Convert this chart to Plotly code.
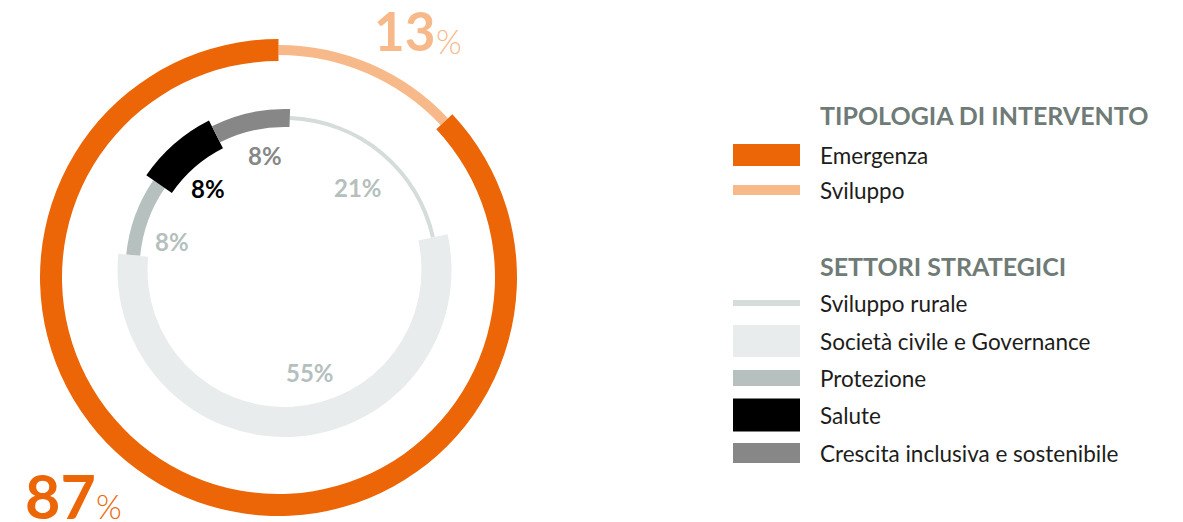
import plotly.graph_objects as go

# ---------------- data ----------------
tip_labels = ["Sviluppo", "Emergenza"]          # outer ring, clockwise from top
tip_values = [13, 87]
sett_labels = ["Sviluppo rurale", "Società civile e Governance", "Protezione",
               "Salute", "Crescita inclusiva e sostenibile"]   # inner ring, clockwise
sett_values = [21, 55, 8, 8, 8]
legend_tip_order = ["Emergenza", "Sviluppo"]

# ---------------- styles ----------------
W, H = 1183, 522
OFF = 8   # page body margin compensation
FONT = "Lato"
tip_colors = {"Emergenza": "#EC6608", "Sviluppo": "#F8B98A"}
tip_thick = {"Emergenza": 22, "Sviluppo": 10}
sett_colors = {"Sviluppo rurale": "#D5DDDB", "Società civile e Governance": "#E8ECEC",
               "Protezione": "#B5C0BF", "Salute": "#000000",
               "Crescita inclusiva e sostenibile": "#878787"}
sett_thick = {"Sviluppo rurale": 4, "Società civile e Governance": 30, "Protezione": 14,
              "Salute": 31, "Crescita inclusiva e sostenibile": 18}
sett_label_colors = {"Sviluppo rurale": "#B5BFBD", "Società civile e Governance": "#B5BFBD",
                     "Protezione": "#B5BFBD", "Salute": "#000000",
                     "Crescita inclusiva e sostenibile": "#878787"}
# label pixel positions (layout only)
sett_label_pos = {"Sviluppo rurale": (358, 187), "Società civile e Governance": (310, 372),
                  "Protezione": (172, 241), "Salute": (208, 188),
                  "Crescita inclusiva e sostenibile": (265, 155)}

OUT_C, OUT_R, OUT_MID = (278.5, 277.5), 240, 227.5
IN_C, IN_R, IN_MID = (284.5, 270), 180, 152
OUT_START, IN_START = 0, 2


def angles(values, start):
    total = sum(values)
    res, c = [], start
    for v in values:
        w = v / total * 360
        res.append((c + w / 2, w))
        c += w
    return res


def px(x):
    return (x - OFF) / W


def py(y):
    return (H - (y - OFF)) / H


def domain(center, rad):
    cx, cy = center
    return dict(x=[px(cx - rad), px(cx + rad)], y=[py(cy + rad), py(cy - rad)])


fig = go.Figure()

oa = angles(tip_values, OUT_START)
fig.add_trace(go.Barpolar(
    theta=[a[0] for a in oa], width=[a[1] for a in oa],
    r=[tip_thick[l] for l in tip_labels],
    base=[OUT_MID - tip_thick[l] / 2 for l in tip_labels],
    marker=dict(color=[tip_colors[l] for l in tip_labels], line=dict(width=0)),
    subplot="polar", hoverinfo="skip", showlegend=False))

ia = angles(sett_values, IN_START)
fig.add_trace(go.Barpolar(
    theta=[a[0] for a in ia], width=[a[1] for a in ia],
    r=[sett_thick[l] for l in sett_labels],
    base=[IN_MID - sett_thick[l] / 2 for l in sett_labels],
    marker=dict(color=[sett_colors[l] for l in sett_labels], line=dict(width=0)),
    subplot="polar2", hoverinfo="skip", showlegend=False))

pol = lambda c, r: dict(
    domain=domain(c, r), bgcolor="rgba(0,0,0,0)", hole=0, bargap=0,
    radialaxis=dict(visible=False, range=[0, r]),
    angularaxis=dict(visible=False, direction="clockwise", rotation=90))

ann = []
# inner labels
for l, v in zip(sett_labels, sett_values):
    x, y = sett_label_pos[l]
    ann.append(dict(x=px(x), y=py(y), xref="paper", yref="paper", showarrow=False,
                    text=f"<b>{v}%</b>", xanchor="center", yanchor="middle",
                    font=dict(family=FONT, size=24, color=sett_label_colors[l])))

# big outer labels
tv = dict(zip(tip_labels, tip_values))
ann.append(dict(x=px(372), y=py(30), xref="paper", yref="paper", showarrow=False,
                text=f"<b>{tv['Sviluppo']}</b>", xanchor="left", yanchor="middle",
                font=dict(family=FONT, size=53, color=tip_colors["Sviluppo"])))
ann.append(dict(x=px(434), y=py(41), xref="paper", yref="paper", showarrow=False,
                text="%", xanchor="left", yanchor="middle",
                font=dict(family=FONT, size=33, color=tip_colors["Sviluppo"], weight=300)))
ann.append(dict(x=px(23), y=py(495), xref="paper", yref="paper", showarrow=False,
                text=f"<b>{tv['Emergenza']}</b>", xanchor="left", yanchor="middle",
                font=dict(family=FONT, size=61, color=tip_colors["Emergenza"])))
ann.append(dict(x=px(94), y=py(506), xref="paper", yref="paper", showarrow=False,
                text="%", xanchor="left", yanchor="middle",
                font=dict(family=FONT, size=33, color=tip_colors["Emergenza"], weight=300)))

# custom legend
shapes = []
SW_X0, SW_X1, TX = 733, 800, 818
TITLE_COLOR = "#6F7B76"
TEXT_COLOR = "#1D1D1B"
ann.append(dict(x=px(TX), y=py(115), xref="paper", yref="paper", showarrow=False,
                text="<b>TIPOLOGIA DI INTERVENTO</b>", xanchor="left", yanchor="middle",
                font=dict(family=FONT, size=25, color=TITLE_COLOR)))
ann.append(dict(x=px(TX), y=py(266), xref="paper", yref="paper", showarrow=False,
                text="<b>SETTORI STRATEGICI</b>", xanchor="left", yanchor="middle",
                font=dict(family=FONT, size=25, color=TITLE_COLOR)))
tip_rows = [155, 190]
for l, yc in zip(legend_tip_order, tip_rows):
    t = tip_thick[l]
    shapes.append(dict(type="rect", xref="paper", yref="paper", x0=px(SW_X0), x1=px(SW_X1),
                       y0=py(yc + t / 2), y1=py(yc - t / 2), fillcolor=tip_colors[l],
                       line=dict(width=0)))
    ann.append(dict(x=px(TX), y=py(yc), xref="paper", yref="paper", showarrow=False,
                    text=l, xanchor="left", yanchor="middle",
                    font=dict(family=FONT, size=22.5, color=TEXT_COLOR)))
sett_rows = [303, 341, 378, 415, 453]
for l, yc in zip(sett_labels, sett_rows):
    t = sett_thick[l] + 2
    shapes.append(dict(type="rect", xref="paper", yref="paper", x0=px(SW_X0), x1=px(SW_X1),
                       y0=py(yc + t / 2), y1=py(yc - t / 2), fillcolor=sett_colors[l],
                       line=dict(width=0)))
    ann.append(dict(x=px(TX), y=py(yc), xref="paper", yref="paper", showarrow=False,
                    text=l, xanchor="left", yanchor="middle",
                    font=dict(family=FONT, size=22.5, color=TEXT_COLOR)))

fig.update_layout(
    width=W, height=H, margin=dict(l=0, r=0, t=0, b=0),
    paper_bgcolor="white", plot_bgcolor="white",
    polar=pol(OUT_C, OUT_R), polar2=pol(IN_C, IN_R),
    annotations=ann, shapes=shapes, showlegend=False)

fig.write_html("out.html")
